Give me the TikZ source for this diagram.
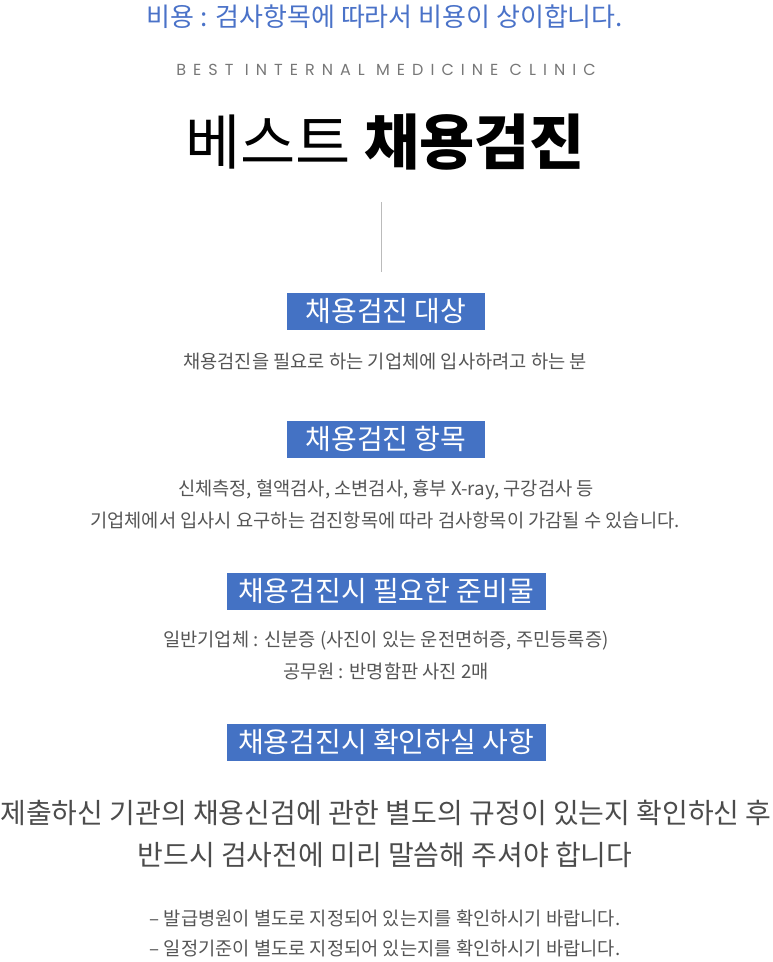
\documentclass[tikz,border=0pt]{standalone}
\usepackage{fontspec}
\setmainfont{Noto Sans CJK KR}
\newfontfamily\latinfont[LetterSpace=44]{Poppins}
\definecolor{costblue}{HTML}{4A72C8}
\definecolor{boxblue}{HTML}{4472C4}
\definecolor{bodygray}{HTML}{555555}
\definecolor{clinicgray}{HTML}{777777}
\definecolor{rulegray}{HTML}{BBBBBB}

\begin{document}
\begin{tikzpicture}[
  x=1pt, y=-1pt,
  headbox/.style={fill=boxblue, text=white, inner sep=0pt,
    minimum height=37pt, font=\fontsize{28}{30}\selectfont},
  bodytext/.style={text=bodygray, inner sep=0pt,
    font=\fontsize{18.7}{21}\selectfont},
  bigtext/.style={text=bodygray!90!black, inner sep=0pt,
    font=\fontsize{28}{32}\selectfont}
]
\useasboundingbox (0,0) rectangle (772,962);
\node[text=costblue, font=\fontsize{26}{28}\selectfont] (cost) at (385,17)
  {비용 : 검사항목에 따라서 비용이 상이합니다.};
\node[text=clinicgray, font=\latinfont\fontsize{16}{18}\selectfont] (clinic) at (386,70)
  {BEST INTERNAL MEDICINE CLINIC};
\node[font=\fontsize{60}{66}\selectfont] (title) at (385,142)
  {베스트 \textbf{채용검진}};
\coordinate (ruletop) at (381,202);
\coordinate (rulebot) at (381,272);
\draw[rulegray] (ruletop) -- (rulebot);

\node[headbox, minimum width=198pt] (boxtarget) at (386,311) {채용검진 대상};
\node[bodytext] (target) at (385,361)
  {채용검진을 필요로 하는 기업체에 입사하려고 하는 분};

\node[headbox, minimum width=198pt] (boxitems) at (386,439) {채용검진 항목};
\node[bodytext] (items1) at (386,490)
  {신체측정, 혈액검사, 소변검사, 흉부 X-ray, 구강검사 등};
\node[bodytext] (items2) at (385,520)
  {기업체에서 입사시 요구하는 검진항목에 따라 검사항목이 가감될 수 있습니다.};

\node[headbox, minimum width=319pt] (boxprep) at (386,591) {채용검진시 필요한 준비물};
\node[bodytext] (prep1) at (386,641)
  {일반기업체 : 신분증 (사진이 있는 운전면허증, 주민등록증)};
\node[bodytext] (prep2) at (386,671)
  {공무원 : 반명함판 사진 2매};

\node[headbox, minimum width=319pt] (boxcheck) at (386,742) {채용검진시 확인하실 사항};
\node[bigtext] (check1) at (386,813)
  {제출하신 기관의 채용신검에 관한 별도의 규정이 있는지 확인하신 후};
\node[bigtext] (check2) at (385,855)
  {반드시 검사전에 미리 말씀해 주셔야 합니다};
\node[bodytext] (note1) at (385,918)
  {– 발급병원이 별도로 지정되어 있는지를 확인하시기 바랍니다.};
\node[bodytext] (note2) at (385,948)
  {– 일정기준이 별도로 지정되어 있는지를 확인하시기 바랍니다.};
\end{tikzpicture}
\end{document}
